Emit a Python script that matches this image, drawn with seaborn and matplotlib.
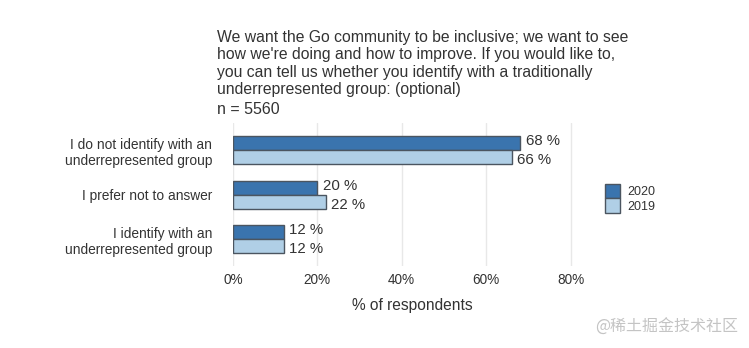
import matplotlib
matplotlib.use("Agg")
import matplotlib.pyplot as plt
import seaborn as sns
import pandas as pd
from matplotlib.ticker import PercentFormatter

categories = [
    "I do not identify with an\nunderrepresented group",
    "I prefer not to answer",
    "I identify with an\nunderrepresented group",
]
years = ["2020", "2019"]
share_2020 = [0.68, 0.20, 0.12]
share_2019 = [0.66, 0.22, 0.12]
x_ticks = [0.0, 0.2, 0.4, 0.6, 0.8]

title = ("We want the Go community to be inclusive; we want to see\n"
         "how we're doing and how to improve. If you would like to,\n"
         "you can tell us whether you identify with a traditionally\n"
         "underrepresented group: (optional)")
n_label = "n = 5560"

df = pd.DataFrame({
    "answer": categories * 2,
    "year": [years[0]] * 3 + [years[1]] * 3,
    "share": share_2020 + share_2019,
})

sns.set_theme(style="whitegrid")
plt.rcParams["font.family"] = ["Liberation Sans", "DejaVu Sans"]
text_color = "#333333"

fig = plt.figure(figsize=(7.49, 3.48), dpi=100)
ax = fig.add_axes([0.311, 0.235, 0.479, 0.411])

palette = {"2020": "#3a74ae", "2019": "#b0cfe6"}
sns.barplot(data=df, y="answer", x="share", hue="year", hue_order=years,
            order=categories, palette=palette, orient="h", width=0.63,
            edgecolor="#4b5560", linewidth=1.0, saturation=1, ax=ax)

# value labels: upper bar's label nudged up, lower bar's nudged down
for container, dy in zip(ax.containers, (1.5, -2.0)):
    labels = [f"{v * 100:.0f} %" for v in container.datavalues]
    anns = ax.bar_label(container, labels=labels, padding=4, fontsize=10.8,
                        color=text_color)
    for a in anns:
        a.xyann = (4, dy)

ax.set_xlim(0, 0.85)
ax.set_ylim(2.6, -0.6)
ax.set_xticks(x_ticks)
ax.xaxis.set_major_formatter(PercentFormatter(1.0, decimals=0))
ax.grid(axis="x", color="#e8e8e8", linewidth=1.0)
ax.grid(axis="y", visible=False)
for s in ax.spines.values():
    s.set_visible(False)
ax.tick_params(axis="x", length=0, labelsize=9.8, colors=text_color, pad=5)
ax.tick_params(axis="y", length=0, labelsize=9.9, colors=text_color, pad=15)
ax.set_xlabel("% of respondents", fontsize=11.2, color=text_color,
              labelpad=8)
ax.set_ylabel("")

leg = ax.legend(loc="center left", bbox_to_anchor=(0.801, 0.43),
                bbox_transform=fig.transFigure, frameon=False,
                fontsize=9, handlelength=1.2, handleheight=1.4,
                labelspacing=0.0, handletextpad=0.6, borderaxespad=0)
for t in leg.get_texts():
    t.set_color(text_color)

fig.text(0.29, 0.914, title, fontsize=11.3, color=text_color,
         ha="left", va="top", linespacing=1.2)
fig.text(0.29, 0.665, n_label, fontsize=11.5, color=text_color,
         ha="left", va="bottom")

fig.text(0.985, 0.06, "@稀土掘金技术社区", fontsize=11.5, color="#c4c4c4",
         ha="right", va="center",
         family=["Noto Sans CJK SC", "DejaVu Sans"])

fig.savefig("out.png", dpi=100)
